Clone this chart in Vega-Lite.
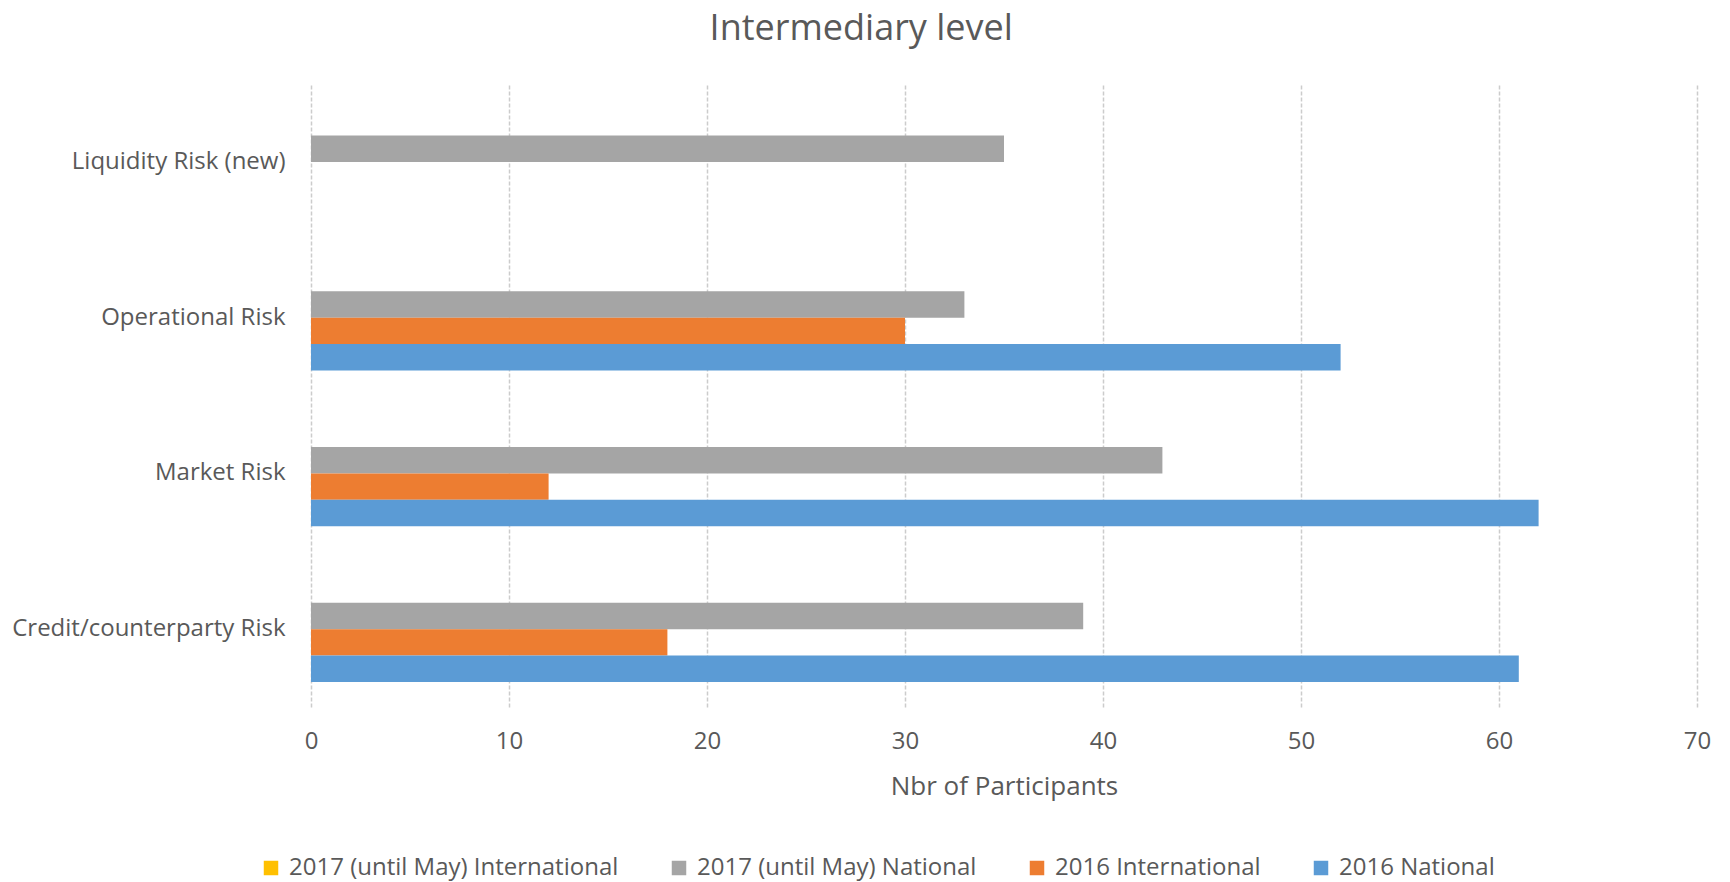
{
  "$schema": "https://vega.github.io/schema/vega-lite/v6.json",
  "autosize": {"type": "none"},
  "width": 1386,
  "height": 623,
  "padding": {"left": 311, "top": 84, "right": 33, "bottom": 175},
  "background": "white",
  "title": {
    "text": "Intermediary level",
    "frame": "bounds",
    "anchor": "middle",
    "fontSize": 36,
    "font": "Open Sans",
    "fontWeight": "normal",
    "color": "#595959",
    "offset": 36
  },
  "data": {
    "values": [
      {"category": "Liquidity Risk (new)", "series": "2017 (until May) International", "value": 0},
      {"category": "Liquidity Risk (new)", "series": "2017 (until May) National", "value": 35},
      {"category": "Liquidity Risk (new)", "series": "2016 International", "value": 0},
      {"category": "Liquidity Risk (new)", "series": "2016 National", "value": 0},
      {"category": "Operational Risk", "series": "2017 (until May) International", "value": 0},
      {"category": "Operational Risk", "series": "2017 (until May) National", "value": 33},
      {"category": "Operational Risk", "series": "2016 International", "value": 30},
      {"category": "Operational Risk", "series": "2016 National", "value": 52},
      {"category": "Market Risk", "series": "2017 (until May) International", "value": 0},
      {"category": "Market Risk", "series": "2017 (until May) National", "value": 43},
      {"category": "Market Risk", "series": "2016 International", "value": 12},
      {"category": "Market Risk", "series": "2016 National", "value": 62},
      {"category": "Credit/counterparty Risk", "series": "2017 (until May) International", "value": 0},
      {"category": "Credit/counterparty Risk", "series": "2017 (until May) National", "value": 39},
      {"category": "Credit/counterparty Risk", "series": "2016 International", "value": 18},
      {"category": "Credit/counterparty Risk", "series": "2016 National", "value": 61}
    ]
  },
  "mark": {"type": "bar"},
  "encoding": {
    "y": {
      "field": "category",
      "type": "nominal",
      "sort": ["Liquidity Risk (new)", "Operational Risk", "Market Risk", "Credit/counterparty Risk"],
      "scale": {"paddingInner": 0.32, "paddingOuter": 0.16},
      "axis": {
        "title": null,
        "domain": false,
        "ticks": false,
        "grid": false,
        "labelFontSize": 24,
        "labelFont": "Open Sans",
        "labelColor": "#595959",
        "labelPadding": 26,
        "labelLimit": 400
      }
    },
    "yOffset": {
      "field": "series",
      "type": "nominal",
      "sort": ["2017 (until May) International", "2017 (until May) National", "2016 International", "2016 National"],
      "scale": {"paddingInner": 0, "paddingOuter": 0}
    },
    "x": {
      "field": "value",
      "type": "quantitative",
      "scale": {"domain": [0, 70]},
      "axis": {
        "title": "Nbr of Participants",
        "values": [0, 10, 20, 30, 40, 50, 60, 70],
        "labelOverlap": false,
        "labelFlush": false,
        "domain": false,
        "ticks": false,
        "grid": true,
        "gridColor": "#cccccc",
        "gridDash": [4, 2],
        "gridWidth": 1.5,
        "labelFontSize": 24,
        "labelFont": "Open Sans",
        "labelColor": "#595959",
        "labelPadding": 22,
        "titleFontSize": 26,
        "titleFont": "Open Sans",
        "titleFontWeight": "normal",
        "titleColor": "#595959",
        "titlePadding": 20
      }
    },
    "color": {
      "field": "series",
      "type": "nominal",
      "scale": {
        "domain": ["2017 (until May) International", "2017 (until May) National", "2016 International", "2016 National"],
        "range": ["#FFC000", "#A5A5A5", "#ED7D31", "#5B9BD5"]
      },
      "legend": {
        "title": null,
        "orient": "none",
        "legendX": -52,
        "legendY": 772,
        "direction": "horizontal",
        "columns": 4,
        "symbolType": "square",
        "symbolSize": 210,
        "symbolStrokeWidth": 0,
        "labelFontSize": 24,
        "labelFont": "Open Sans",
        "labelColor": "#595959",
        "labelOffset": 6,
        "labelLimit": 500,
        "columnPadding": 48
      }
    }
  },
  "config": {
    "view": {"stroke": null}
  }
}
